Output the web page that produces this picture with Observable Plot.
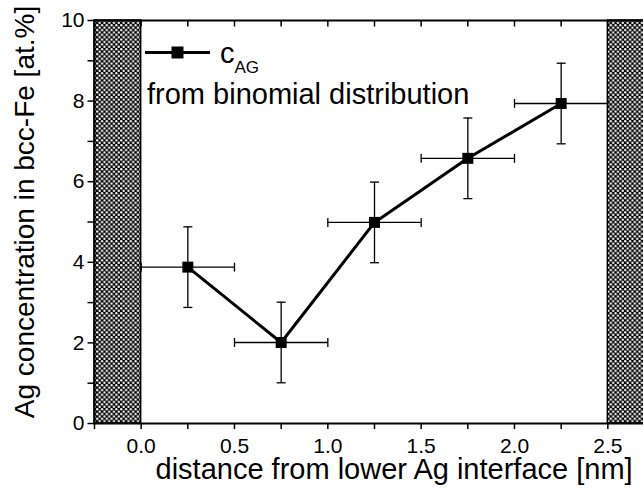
<!DOCTYPE html>
<html><head><meta charset="utf-8">
<script src="https://cdn.jsdelivr.net/npm/d3@7"></script>
<script src="https://cdn.jsdelivr.net/npm/@observablehq/plot@0.6"></script>
<style>
html,body{margin:0;padding:0;background:#fff;overflow:hidden;}
#chart svg{overflow:hidden;display:block;}
</style></head><body><div id="chart"></div>
<script>
// ---- data ----
const distance = [0.25, 0.75, 1.25, 1.75, 2.25];      // nm
const cAg = [3.88, 2.01, 4.99, 6.58, 7.94];           // at.%
const cAgErr = [1, 1, 1, 1, 1];
const distanceErr = [0.25, 0.25, 0.25, 0.25, 0.25];
const xMajorTicks = [0, 0.5, 1, 1.5, 2, 2.5];
const xMinorTicks = [-0.25, 0.25, 0.75, 1.25, 1.75, 2.25];
const yMajorTicks = [0, 2, 4, 6, 8, 10];
const yMinorTicks = [1, 3, 5, 7, 9];
const zoneStart = [-0.25, 2.5];
const zoneEnd = [0, 2.75];
const xLabel = "distance from lower Ag interface [nm]";
const yLabel = "Ag concentration in bcc-Fe [at.%]";
const legendSymbol = "c";
const legendSub = "AG";
const legendText = "from binomial distribution";

const FONT = "Liberation Sans, Arial, Helvetica, sans-serif";
const data = distance.map((x, i) => ({x, y: cAg[i], ey: cAgErr[i], ex: distanceErr[i]}));
const zones = zoneStart.map((x1, i) => ({x1, x2: zoneEnd[i]}));
const allX = xMajorTicks.concat(xMinorTicks);
const allY = yMajorTicks.concat(yMinorTicks);

const vline = {draw(ctx, size) { const r = Math.sqrt(size / Math.PI); ctx.moveTo(0, -r); ctx.lineTo(0, r); }};
const hline = {draw(ctx, size) { const r = Math.sqrt(size / Math.PI); ctx.moveTo(-r, 0); ctx.lineTo(r, 0); }};

function legend(index, scales, values, dims) {
  const L = dims.marginLeft, T = dims.marginTop;
  const g = d3.create("svg:g").attr("font-family", FONT).attr("fill", "black").attr("text-anchor", "start");
  const ly = T + 32.5;
  g.append("line").attr("x1", L + 51).attr("x2", L + 116).attr("y1", ly).attr("y2", ly)
    .attr("stroke", "black").attr("stroke-width", 3);
  g.append("rect").attr("x", L + 83.5 - 6).attr("y", ly - 6).attr("width", 12).attr("height", 12);
  const t = g.append("text").attr("x", L + 126).attr("y", T + 43).attr("font-size", 29).text(legendSymbol);
  t.append("tspan").attr("dy", 10).attr("font-size", 17).text(legendSub);
  g.append("text").attr("x", L + 53).attr("y", T + 84).attr("font-size", 29).text(legendText);
  return g.node();
}

const plot = Plot.plot({
  width: 643,
  height: 488,
  marginLeft: 94,
  marginRight: -11,
  marginTop: 20,
  marginBottom: 65,
  style: {fontFamily: FONT, background: "white", color: "black", overflow: "hidden"},
  x: {domain: [-0.25, 2.75], axis: null},
  y: {domain: [0, 10], axis: null},
  marks: [
    Plot.rectX(zones, {x1: "x1", x2: "x2", y1: 0, y2: 10, fill: "url(#hatch)", stroke: "black", strokeWidth: 1.5}),
    // error bars
    Plot.ruleX(data, {x: "x", y1: d => d.y - d.ey, y2: d => d.y + d.ey, stroke: "black", strokeWidth: 1.3}),
    Plot.ruleY(data, {y: "y", x1: d => d.x - d.ex, x2: d => d.x + d.ex, stroke: "black", strokeWidth: 1.3}),
    Plot.dot(data, {x: "x", y: d => d.y - d.ey, symbol: hline, r: 4.5, stroke: "black", strokeWidth: 1.3, fill: "none"}),
    Plot.dot(data, {x: "x", y: d => d.y + d.ey, symbol: hline, r: 4.5, stroke: "black", strokeWidth: 1.3, fill: "none"}),
    Plot.dot(data, {x: d => d.x - d.ex, y: "y", symbol: vline, r: 4.5, stroke: "black", strokeWidth: 1.3, fill: "none"}),
    Plot.dot(data, {x: d => d.x + d.ex, y: "y", symbol: vline, r: 4.5, stroke: "black", strokeWidth: 1.3, fill: "none"}),
    Plot.line(data, {x: "x", y: "y", stroke: "black", strokeWidth: 3}),
    Plot.dot(data, {x: "x", y: "y", symbol: "square", r: 6.2, fill: "black", stroke: "none"}),
    // frame
    Plot.frame({stroke: "black", strokeWidth: 2}),
    // ticks
    Plot.dot(allX, {x: d => d, frameAnchor: "bottom", symbol: vline, r: 2.8, dy: 2.8, stroke: "black", strokeWidth: 1.5, fill: "none"}),
    Plot.dot(allX, {x: d => d, frameAnchor: "top", symbol: vline, r: 3, dy: 3, stroke: "black", strokeWidth: 1.5, fill: "none"}),
    Plot.dot(allY, {y: d => d, frameAnchor: "left", symbol: hline, r: 3.5, dx: -3.5, stroke: "black", strokeWidth: 1.5, fill: "none"}),
    // tick labels
    Plot.text(xMajorTicks, {x: d => d, text: d => d.toFixed(1), frameAnchor: "bottom", textAnchor: "middle", lineAnchor: "bottom", dy: 29, fontSize: 21, fill: "black"}),
    Plot.text(yMajorTicks, {y: d => d, text: d => String(d), frameAnchor: "left", textAnchor: "end", dx: -10, fontSize: 21, fill: "black"}),
    // axis titles
    Plot.text([xLabel], {text: d => d, frameAnchor: "bottom-left", textAnchor: "start", lineAnchor: "bottom", dx: 61, dy: 55.5, fontSize: 29, fill: "black"}),
    Plot.text([yLabel], {text: d => d, frameAnchor: "left", textAnchor: "middle", lineAnchor: "bottom", rotate: -90, dx: -60.5, dy: -10, fontSize: 28, fill: "black"}),
    legend
  ]
});

const ns = "http://www.w3.org/2000/svg";
const defs = document.createElementNS(ns, "defs");
defs.innerHTML = `<pattern id="hatch" patternUnits="userSpaceOnUse" width="4.8" height="4.8">
  <rect width="4.8" height="4.8" fill="black"/>
  <circle cx="1.2" cy="1.2" r="1.2" fill="white"/>
  <circle cx="3.6" cy="3.6" r="1.2" fill="white"/>
</pattern>`;
plot.insertBefore(defs, plot.firstChild);
document.getElementById("chart").appendChild(plot);
</script></body></html>
